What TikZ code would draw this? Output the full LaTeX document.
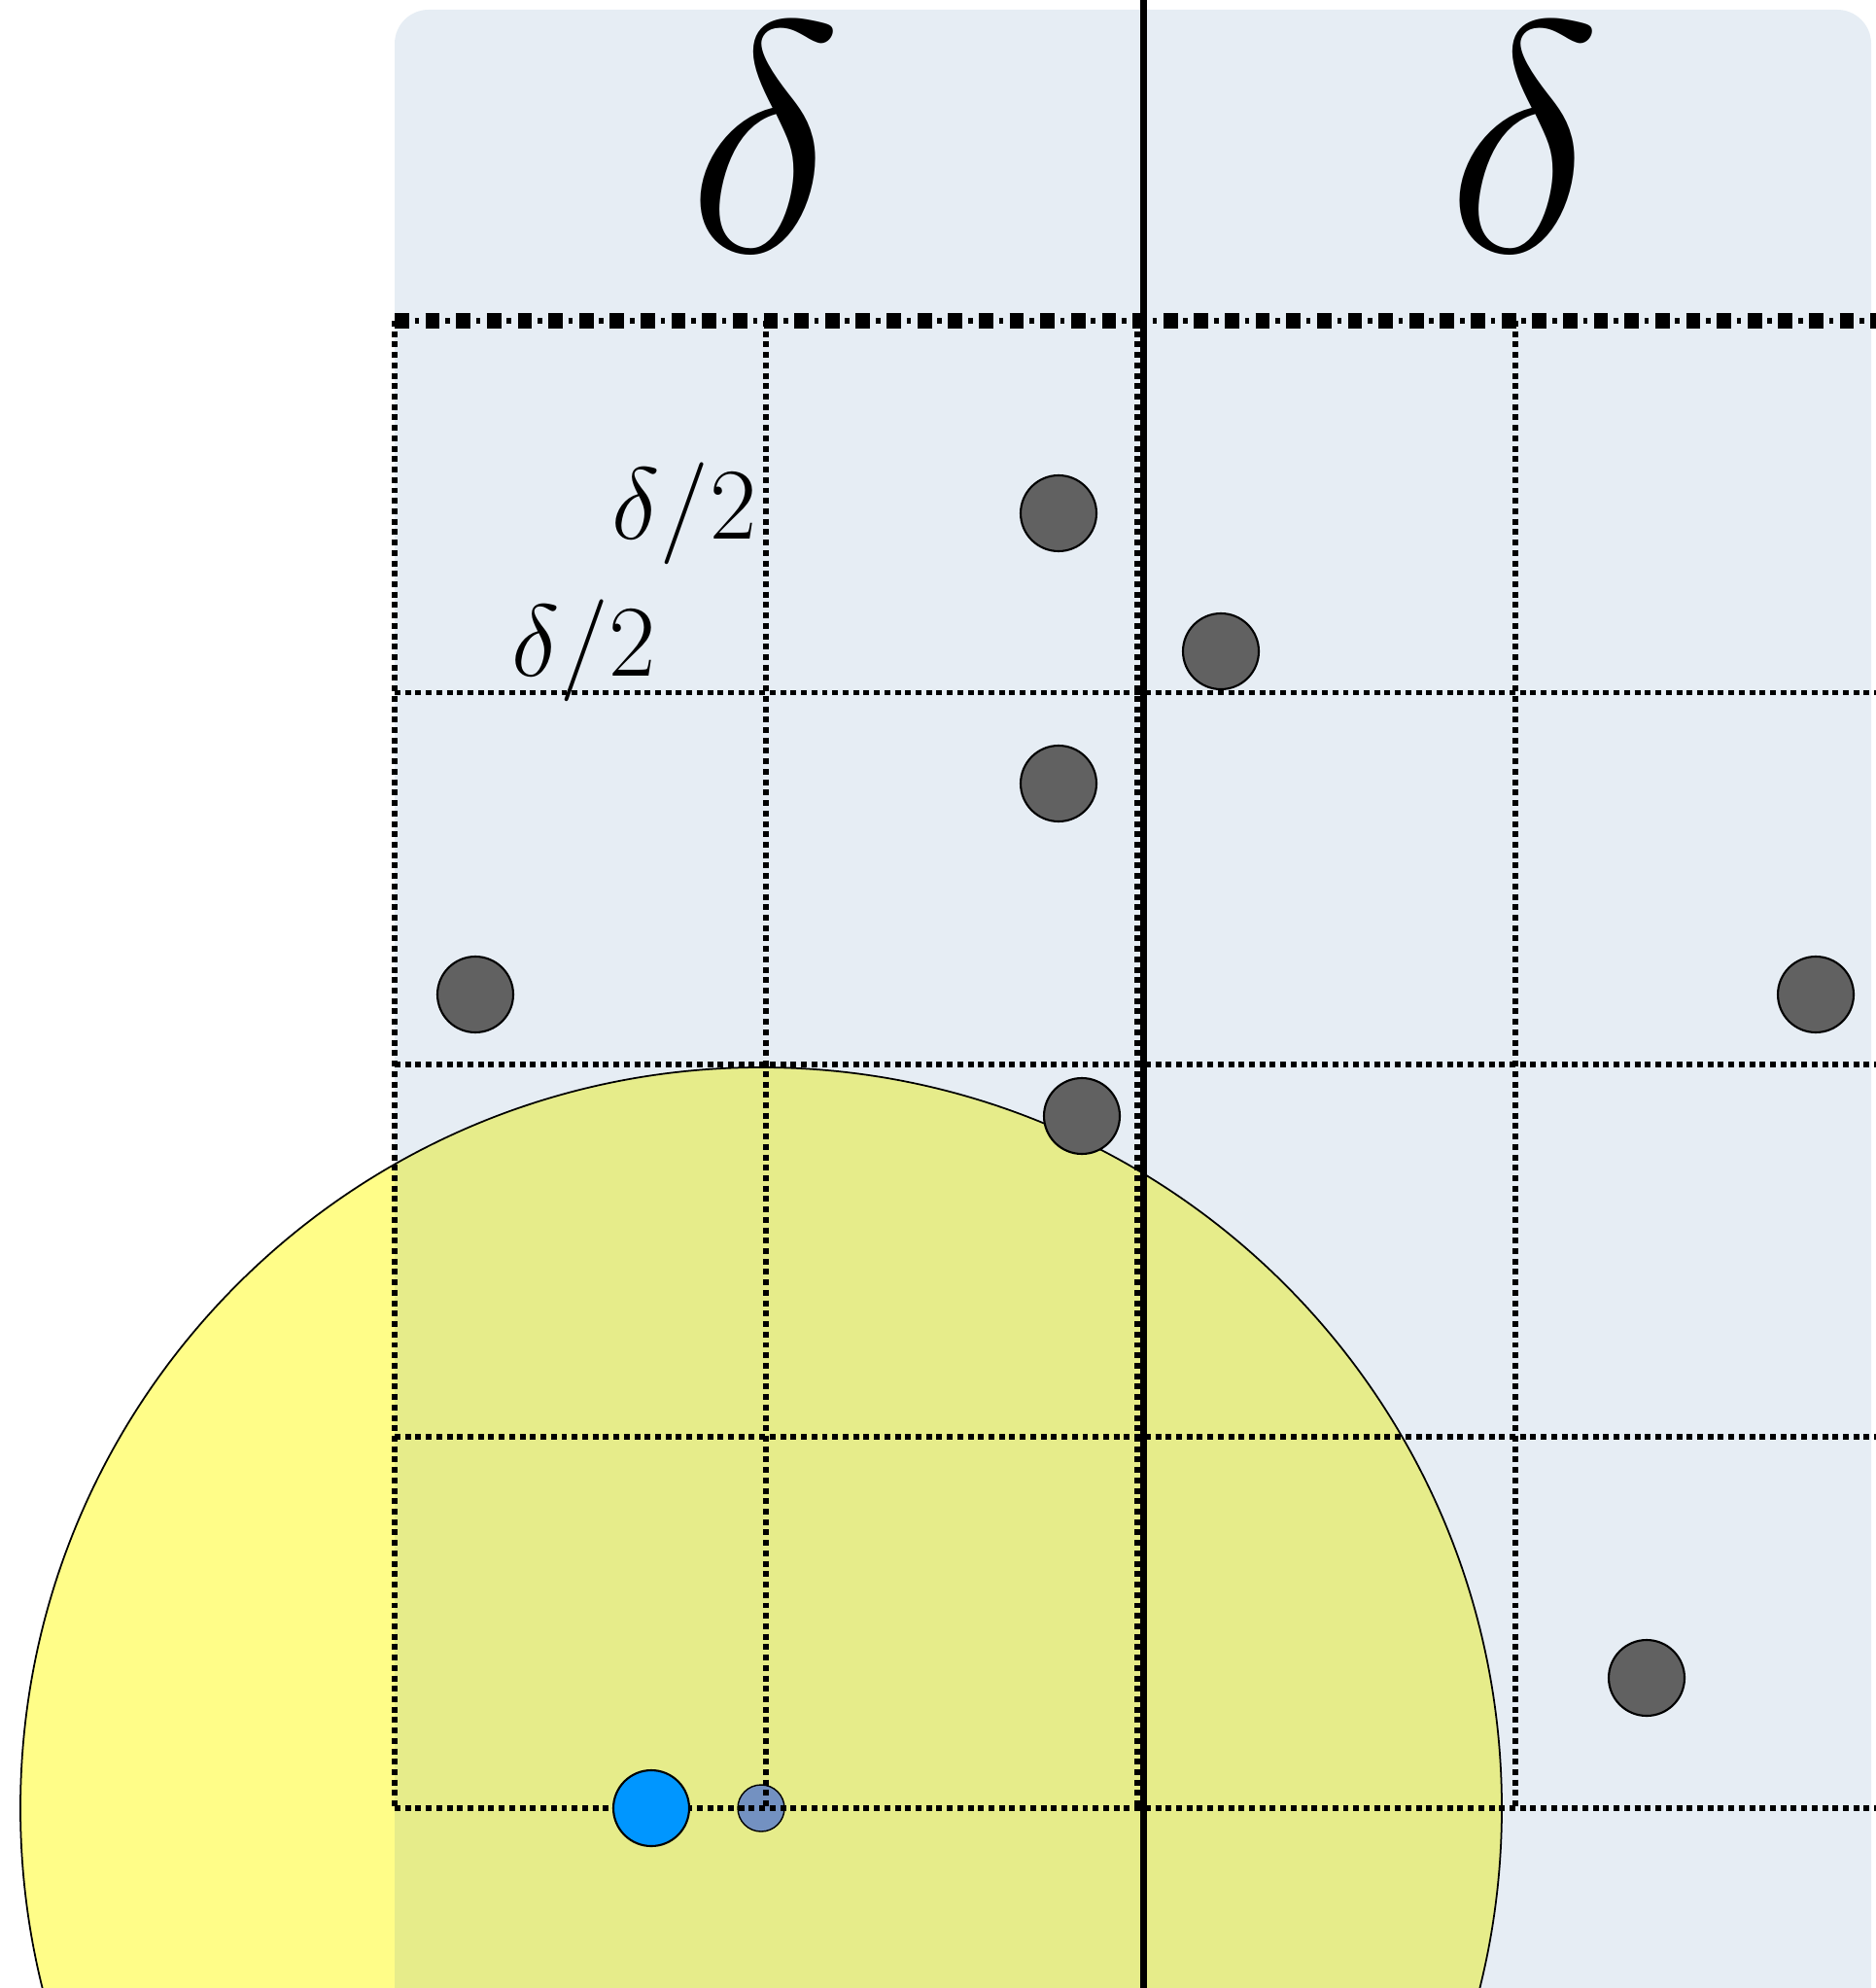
\RequirePackage{fix-cm}
\documentclass[tikz,border=0pt]{standalone}
\usepackage{amsmath}
\usetikzlibrary{positioning}
\definecolor{PanelBlue}{HTML}{E6EDF4}
\definecolor{BallYellow}{HTML}{FFFD88}
\definecolor{BallOnPanel}{HTML}{E6EC8A}
\definecolor{DotGray}{HTML}{616161}
\definecolor{QueryBlue}{HTML}{0096FF}
\definecolor{CenterBlue}{HTML}{7391C1}

\begin{document}
\begin{tikzpicture}[
  ptbase/.style={circle,draw=black,line width=0.6pt,inner sep=0pt,minimum size=7.8mm},
  pointdot/.style={ptbase,fill=DotGray},
  querydot/.style={ptbase,fill=QueryBlue},
  centerdot/.style={ptbase,fill=CenterBlue,minimum size=4.8mm,line width=0.4pt},
  gridline/.style={line width=1.7pt,dash pattern=on 1.7pt off 1.35pt},
  topthick/.style={line width=4.4pt,dash pattern=on 4.2pt off 4.8pt},
  topthin/.style={line width=1.5pt,dash pattern=on 1.3pt off 7.7pt,dash phase=3.15pt},
  splitline/.style={line width=2.2pt},
  halflabel/.style={font=\fontsize{29.8}{31}\selectfont,anchor=base east,inner sep=0pt},
  widthlabel/.style={font=\fontsize{96}{96}\selectfont,anchor=base,inner sep=0pt}
]
\useasboundingbox (0,0) rectangle (19.29,-20.45);

% panel and ball
\fill[PanelBlue,rounded corners=3.5mm] (4.06,-0.10) rectangle (19.25,-21.5);
\fill[BallYellow] (7.83,-18.60) circle (7.62);
\begin{scope}
  \clip (4.06,-0.10) rectangle (19.25,-21.5);
  \fill[BallOnPanel] (7.83,-18.60) circle (7.62);
\end{scope}
\draw[line width=0.5pt] (7.83,-18.60) circle (7.62);
\node[centerdot] (ctr) at (7.83,-18.60) {};

% grid of delta/2 cells
\foreach \k in {1,...,4} {
  \draw[gridline] (4.06,{-3.30-3.825*\k}) -- (19.40,{-3.30-3.825*\k});
}
\foreach \x in {4.06,7.88,11.70,15.59} {
  \draw[gridline] (\x,-3.30) -- (\x,-18.60);
}
\draw[topthick] (4.06,-3.30) -- (19.40,-3.30);
\draw[topthin] (4.06,-3.30) -- (19.40,-3.30);

% dividing line
\coordinate (splittop) at (11.765,0);
\coordinate (splitbot) at (11.765,-20.45);
\draw[splitline] (splittop) -- (splitbot);

% points
\node[pointdot] (pt1) at (10.89,-5.28) {};
\node[pointdot] (pt2) at (12.56,-6.70) {};
\node[pointdot] (pt3) at (10.89,-8.06) {};
\node[pointdot] (pt4) at (4.89,-10.23) {};
\node[pointdot] (pt5) at (18.68,-10.23) {};
\node[pointdot] (pt6) at (11.13,-11.48) {};
\node[pointdot] (pt7) at (16.94,-17.26) {};
\node[querydot] (qry) at (6.70,-18.60) {};

% labels
\node[widthlabel] (deltaleft) at (7.87,-2.59) {$\delta$};
\node[widthlabel] (deltaright) at (15.68,-2.59) {$\delta$};
\node[halflabel] (halfone) at (7.79,-5.55) {$\delta/2$};
\node[halflabel] (halftwo) at (6.755,-6.96) {$\delta/2$};

\end{tikzpicture}
\end{document}
